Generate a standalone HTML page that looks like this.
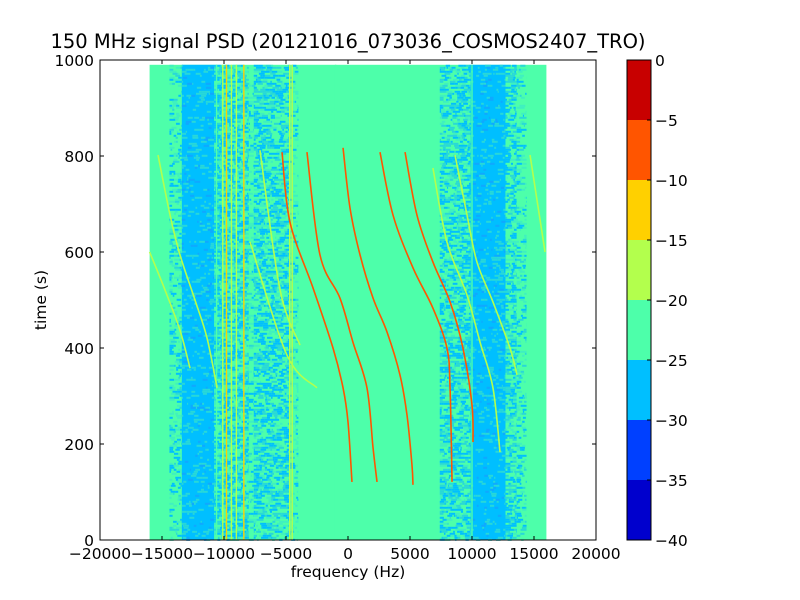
<!DOCTYPE html>
<html><head><meta charset="utf-8"><style>
html,body{margin:0;padding:0;background:#fff;width:800px;height:600px;overflow:hidden}
svg text{font-family:"DejaVu Sans","Liberation Sans",sans-serif;fill:#000}
</style></head><body>
<svg id="chart" width="800" height="600" viewBox="0 0 800 600" xmlns="http://www.w3.org/2000/svg">
<rect width="800" height="600" fill="#fff"/>
<text x="348" y="48" font-size="19.5" text-anchor="middle">150 MHz signal PSD (20121016_073036_COSMOS2407_TRO)</text>
<g id="plot"></g>
<g id="axes"></g>
<g id="cbar"></g>
<text x="348" y="577" font-size="15.5" text-anchor="middle">frequency (Hz)</text>
<text x="0" y="0" font-size="15.5" text-anchor="middle" transform="translate(46,300) rotate(-90)">time (s)</text>
</svg>
<script>
// ---- data ----
const xTicks = [-20000,-15000,-10000,-5000,0,5000,10000,15000,20000];
const yTicks = [0,200,400,600,800,1000];
const cbarLevels = [-40,-35,-30,-25,-20,-15,-10,-5,0];
const cbarColors = ["#0000cd","#0040ff","#00bfff","#4dffaa","#b3ff4d","#ffd000","#ff5500","#c80000"];
const dataFreqRange = [-16000,16000];
const dataTimeRange = [0,990];
// satellite Doppler tracks: frequency (Hz) and time (s)
const trackNames = ["t1","t2","tf1","tf2","tr1","tr2","tr3","tr4","tr5","tg6","tg7","tg8"];
const trackFreq = [
 [-16000,-14760,-13550,-12740],
 [-15320,-14350,-13550,-12340,-11370,-10560],
 [-7900,-4920,-2500],
 [-7100,-5480,-3870],
 [-5320,-4680,-2820,-1210,-400,0,320],
 [-3310,-2260,-650,400,1530,2020,2340],
 [-400,160,970,2020,3150,4190,4760,5160,5240],
 [2580,3630,5240,6850,7980,8230,8390],
 [4600,5560,6850,8230,9270,10000,10080],
 [6850,7980,9600,10650,11690,12260],
 [8630,9600,10400,11690,13060,13630],
 [14680,15890]
];
const trackTime = [
 [600,521,437,358],
 [802,677,594,500,421,317],
 [621,385,317],
 [812,521,406],
 [808,662,525,400,317,246,121],
 [808,594,504,412,317,192,121],
 [817,692,594,504,433,344,260,156,115],
 [808,677,567,483,400,317,121],
 [808,677,579,496,400,281,204],
 [775,621,510,412,317,183],
 [802,677,579,496,400,344],
 [802,600]
];
const trackLevel = [-17,-17,-20,-19,-8,-10,-7,-10,-10,-17,-17,-17];
// steady carrier lines (Hz)
const carrierFreq = [-10600,-10100,-9800,-9400,-9000,-8400,-4700,-4500,-1000,10000];
const carrierLevel = [-21,-17,-13,-17,-17,-13,-17,-17,-22,-22];
// noisy (low-power) bands: [start, end] Hz and density
const bandStart = [-14400,-13400,-10800,-10200,-8000,-7600,-4700,7400,9900,12700,13600];
const bandEnd = [-13400,-10800,-10200,-8000,-7600,-4700,-4000,9900,12700,13600,14400];
const bandDensity = [0.25,0.85,0.6,0.5,0.15,0.5,0.15,0.5,0.92,0.5,0.2];

// ---- scales ----
const X0=100,X1=596,Y0=540,Y1=60;
const xs = f => X0 + (f+20000)/40000*(X1-X0);
const ys = t => Y0 - t/1000*(Y0-Y1);
const NS="http://www.w3.org/2000/svg";
function mk(tag, attrs, parent){const e=document.createElementNS(NS,tag);for(const k in attrs)e.setAttribute(k,attrs[k]);parent.appendChild(e);return e;}
function colorFor(v){for(let i=0;i<cbarColors.length;i++){if(v<cbarLevels[i+1])return cbarColors[i];}return cbarColors[cbarColors.length-1];}

const plot=document.getElementById('plot');
const bg=mk('rect',{x:xs(dataFreqRange[0]),y:ys(dataTimeRange[1]),width:xs(dataFreqRange[1])-xs(dataFreqRange[0]),height:ys(dataTimeRange[0])-ys(dataTimeRange[1]),fill:colorFor(-22)},plot);



// noise texture in bands (deterministic LCG texture)
let seed=12345;function rnd(){seed=(seed*1103515245+12345)%2147483648;return seed/2147483648;}
const blue=colorFor(-27), mid="#28d8d8", lite="#3ff0c0";
bandStart.forEach((s,i)=>{
  const g=mk('g',{},plot);
  
  
  const x0=xs(s),x1=xs(bandEnd[i]),top=ys(dataTimeRange[1]),bot=ys(0);
  const d=bandDensity[i];
  if(d>0.8){mk('rect',{x:x0,y:top,width:x1-x0,height:bot-top,fill:blue},g);}
  for(let y=top;y<bot;y+=2){
    let x=x0;
    while(x<x1){const w=1+rnd()*5;const r=rnd();
      let c;
      if(d>0.8){c = r<0.15?mid:(r<0.2?"#10a8ff":null);}
      else {c = r<d*0.6?blue:(r<d?mid:(r<d+0.15?lite:null));}
      if(c)mk('rect',{x:x,y:y,width:Math.min(w,x1-x),height:2,fill:c},g);
      x+=w;}
  }
});
// carrier lines
carrierFreq.forEach((f,i)=>{
  const l=mk('line',{x1:xs(f),x2:xs(f),y1:ys(dataTimeRange[1]),y2:ys(0),stroke:colorFor(carrierLevel[i]),'stroke-width':1.4},plot);
  
  
});
// tracks (catmull-rom smoothing)
trackFreq.forEach((fs,i)=>{
  const p=fs.map((f,j)=>[xs(f),ys(trackTime[i][j])]);
  let d="M"+p[0][0]+","+p[0][1];
  for(let j=0;j<p.length-1;j++){
    const a=p[j-1]||p[j],b=p[j],c=p[j+1],e=p[j+2]||c;
    d+=" C"+(b[0]+(c[0]-a[0])/6)+","+(b[1]+(c[1]-a[1])/6)+" "+(c[0]-(e[0]-b[0])/6)+","+(c[1]-(e[1]-b[1])/6)+" "+c[0]+","+c[1];
  }
  const path=mk('path',{d:d,fill:'none',stroke:colorFor(trackLevel[i]),'stroke-width':1.6},plot);
  
  
});

// axes
const ax=document.getElementById('axes');
mk('rect',{x:X0,y:Y1,width:X1-X0,height:Y0-Y1,fill:'none',stroke:'#000','stroke-width':1},ax);
xTicks.forEach(v=>{
  const x=xs(v);
  mk('line',{x1:x,x2:x,y1:Y0,y2:Y0-4,stroke:'#000'},ax);
  mk('line',{x1:x,x2:x,y1:Y1,y2:Y1+4,stroke:'#000'},ax);
  const t=mk('text',{x:x,y:Y0+19,'font-size':15.5,'text-anchor':'middle'},ax);
  t.textContent=(v<0?"\u2212"+(-v):v);
  
  
});
yTicks.forEach(v=>{
  const y=ys(v);
  mk('line',{x1:X0,x2:X0+4,y1:y,y2:y,stroke:'#000'},ax);
  mk('line',{x1:X1,x2:X1-4,y1:y,y2:y,stroke:'#000'},ax);
  const t=mk('text',{x:X0-6,y:y+6,'font-size':15.5,'text-anchor':'end'},ax);
  t.textContent=v;
  
  
});
// colorbar
const cb=document.getElementById('cbar');
const CX=627,CW=24;
const cys=v=>Y0-(v-cbarLevels[0])/(cbarLevels[cbarLevels.length-1]-cbarLevels[0])*(Y0-Y1);
cbarColors.forEach((c,i)=>{
  const r=mk('rect',{x:CX,y:cys(cbarLevels[i+1]),width:CW,height:cys(cbarLevels[i])-cys(cbarLevels[i+1]),fill:c},cb);
  
  
});
mk('rect',{x:CX,y:Y1,width:CW,height:Y0-Y1,fill:'none',stroke:'#000'},cb);
cbarLevels.forEach(v=>{
  const y=cys(v);
  mk('line',{x1:CX+CW-4,x2:CX+CW,y1:y,y2:y,stroke:'#000'},cb);
  const t=mk('text',{x:CX+CW+4,y:y+6,'font-size':15.5},cb);
  t.textContent=(v<0?"\u2212"+(-v):v);
  
  
});
</script>
</body></html>
